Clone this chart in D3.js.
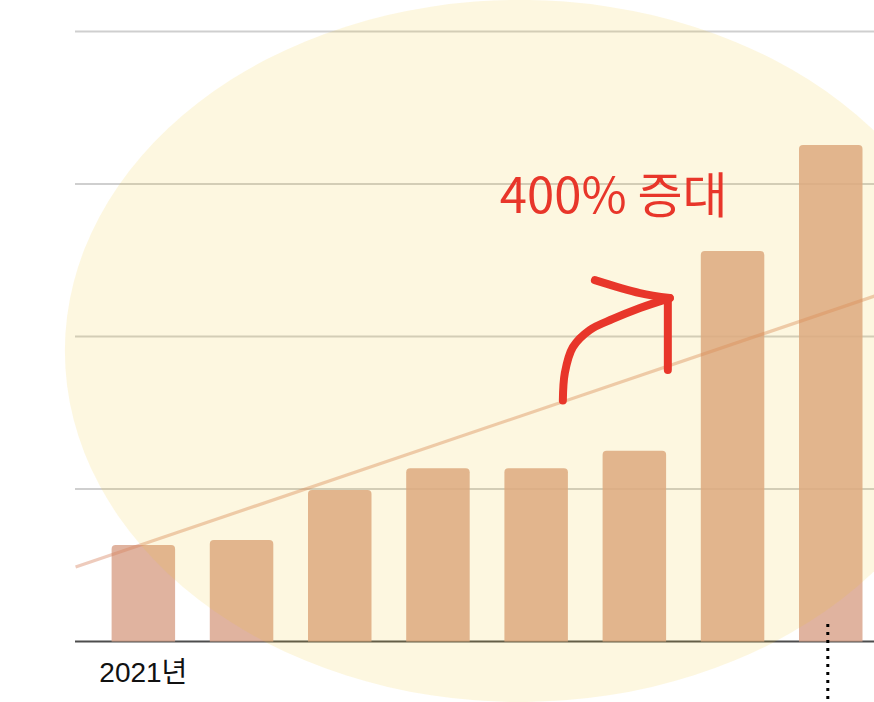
<!DOCTYPE html>
<html>
<head>
<meta charset="utf-8">
<script src="https://cdn.jsdelivr.net/npm/d3@7"></script>
<style>
  html, body { margin: 0; padding: 0; background: #ffffff; }
  svg { display: block; }
</style>
</head>
<body>
<svg id="chart" width="874" height="702"></svg>
<script>
// ---- data ----
const categories = ["2021년", "P2", "P3", "P4", "P5", "P6", "P7", "P8"];
const tickLabels = ["2021년", "", "", "", "", "", "", ""];
const values = [63.3, 66.6, 99.3, 113.6, 113.6, 125.1, 256.0, 325.6];
const gridValues = [100, 200, 300, 400];
// trend line, in (bar index, value) units
const trendPoints = [{i: -0.69, v: 48.9}, {i: 7.45, v: 226.6}];
// annotation
const annotationText = "400% 증대";
const annotationAnchor = {i: 3.63, v: 281};
const arrowCurve = [
  {i: 4.272, v: 158}, {i: 4.292, v: 176}, {i: 4.374, v: 193},
  {i: 4.547, v: 204.3}, {i: 4.781, v: 211.5}, {i: 5.057, v: 218.7}, {i: 5.361, v: 225.2}
];
const arrowHead = [{i: 4.598, v: 237.0}, {i: 5.057, v: 228.5}, {i: 5.361, v: 225.2}];
const arrowStem = [{i: 5.341, v: 224}, {i: 5.341, v: 178}];
const highlight = {i: 3.834, v: 190.5, ri: 4.633, rv: 230.2};
const markerIndex = 6.97;

// ---- scales ----
const svg = d3.select("#chart");
const x = d3.scaleBand().domain(categories).range([76, 898.1])
  .paddingInner(0.3534).paddingOuter(0.3625);
const y = d3.scaleLinear().domain([0, 400]).range([641.5, 31.5]);
const xi = d3.scaleLinear().domain([0, categories.length - 1])
  .range([x(categories[0]) + x.bandwidth() / 2, x(categories[categories.length - 1]) + x.bandwidth() / 2]);

// gridlines
svg.append("g").selectAll("line").data(gridValues).join("line")
  .attr("x1", 75).attr("x2", 874)
  .attr("y1", d => y(d)).attr("y2", d => y(d))
  .attr("stroke", "#cfcfcf").attr("stroke-width", 2);

// baseline
svg.append("line").attr("x1", 75).attr("x2", 874)
  .attr("y1", y(0)).attr("y2", y(0))
  .attr("stroke", "#4d4d4d").attr("stroke-width", 2);

// bars with rounded top corners
function barPath(x0, w, yTop, yBot, r) {
  return `M${x0},${yBot}V${yTop + r}Q${x0},${yTop} ${x0 + r},${yTop}H${x0 + w - r}Q${x0 + w},${yTop} ${x0 + w},${yTop + r}V${yBot}Z`;
}
svg.append("g").selectAll("path").data(values).join("path")
  .attr("d", (d, k) => barPath(x(categories[k]), x.bandwidth(), y(d), y(0), 4))
  .attr("fill", "rgb(219,167,143)").attr("fill-opacity", 0.86);

// trend line
svg.append("path").datum(trendPoints)
  .attr("d", d3.line().x(d => xi(d.i)).y(d => y(d.v)))
  .attr("fill", "none").attr("stroke", "rgb(214,132,96)")
  .attr("stroke-opacity", 0.42).attr("stroke-width", 3.2);

// highlight ellipse overlay
svg.append("ellipse")
  .attr("cx", xi(highlight.i)).attr("cy", y(highlight.v))
  .attr("rx", xi(highlight.ri) - xi(0)).attr("ry", y(0) - y(highlight.rv))
  .attr("fill", "rgb(241,198,33)").attr("fill-opacity", 0.14);

// annotation text
svg.append("text")
  .attr("x", xi(annotationAnchor.i)).attr("y", y(annotationAnchor.v))
  .attr("font-family", "'Noto Sans CJK KR', 'Noto Sans', sans-serif")
  .attr("font-size", 49).attr("fill", "#e8362a")
  .text(annotationText);

// arrow
const red = "#e8362a";
const lineGen = d3.line().x(d => xi(d.i)).y(d => y(d.v));
svg.append("path").datum(arrowCurve)
  .attr("d", lineGen.curve(d3.curveCatmullRom))
  .attr("fill", "none").attr("stroke", red).attr("stroke-width", 8)
  .attr("stroke-linecap", "round").attr("stroke-linejoin", "round");
svg.append("path").datum(arrowHead)
  .attr("d", d3.line().x(d => xi(d.i)).y(d => y(d.v)).curve(d3.curveCatmullRom))
  .attr("fill", "none").attr("stroke", red).attr("stroke-width", 8)
  .attr("stroke-linecap", "round").attr("stroke-linejoin", "round");
svg.append("path").datum(arrowStem)
  .attr("d", d3.line().x(d => xi(d.i)).y(d => y(d.v)))
  .attr("fill", "none").attr("stroke", red).attr("stroke-width", 8)
  .attr("stroke-linecap", "round");

// x axis labels
const axis = d3.axisBottom(x).tickSize(0).tickPadding(20.5)
  .tickFormat((d, k) => tickLabels[k]);
const ax = svg.append("g").attr("transform", `translate(0,${y(0)})`).call(axis);
ax.select(".domain").remove();
ax.selectAll("text")
  .attr("font-family", "'Liberation Sans', Arial, 'Noto Sans CJK KR', sans-serif")
  .attr("font-size", 28).attr("fill", "#111");

// dotted marker
svg.append("line")
  .attr("x1", xi(markerIndex)).attr("x2", xi(markerIndex))
  .attr("y1", 624).attr("y2", 700)
  .attr("stroke", "#000").attr("stroke-width", 3)
  .attr("stroke-dasharray", "3,5");
</script>
</body>
</html>
